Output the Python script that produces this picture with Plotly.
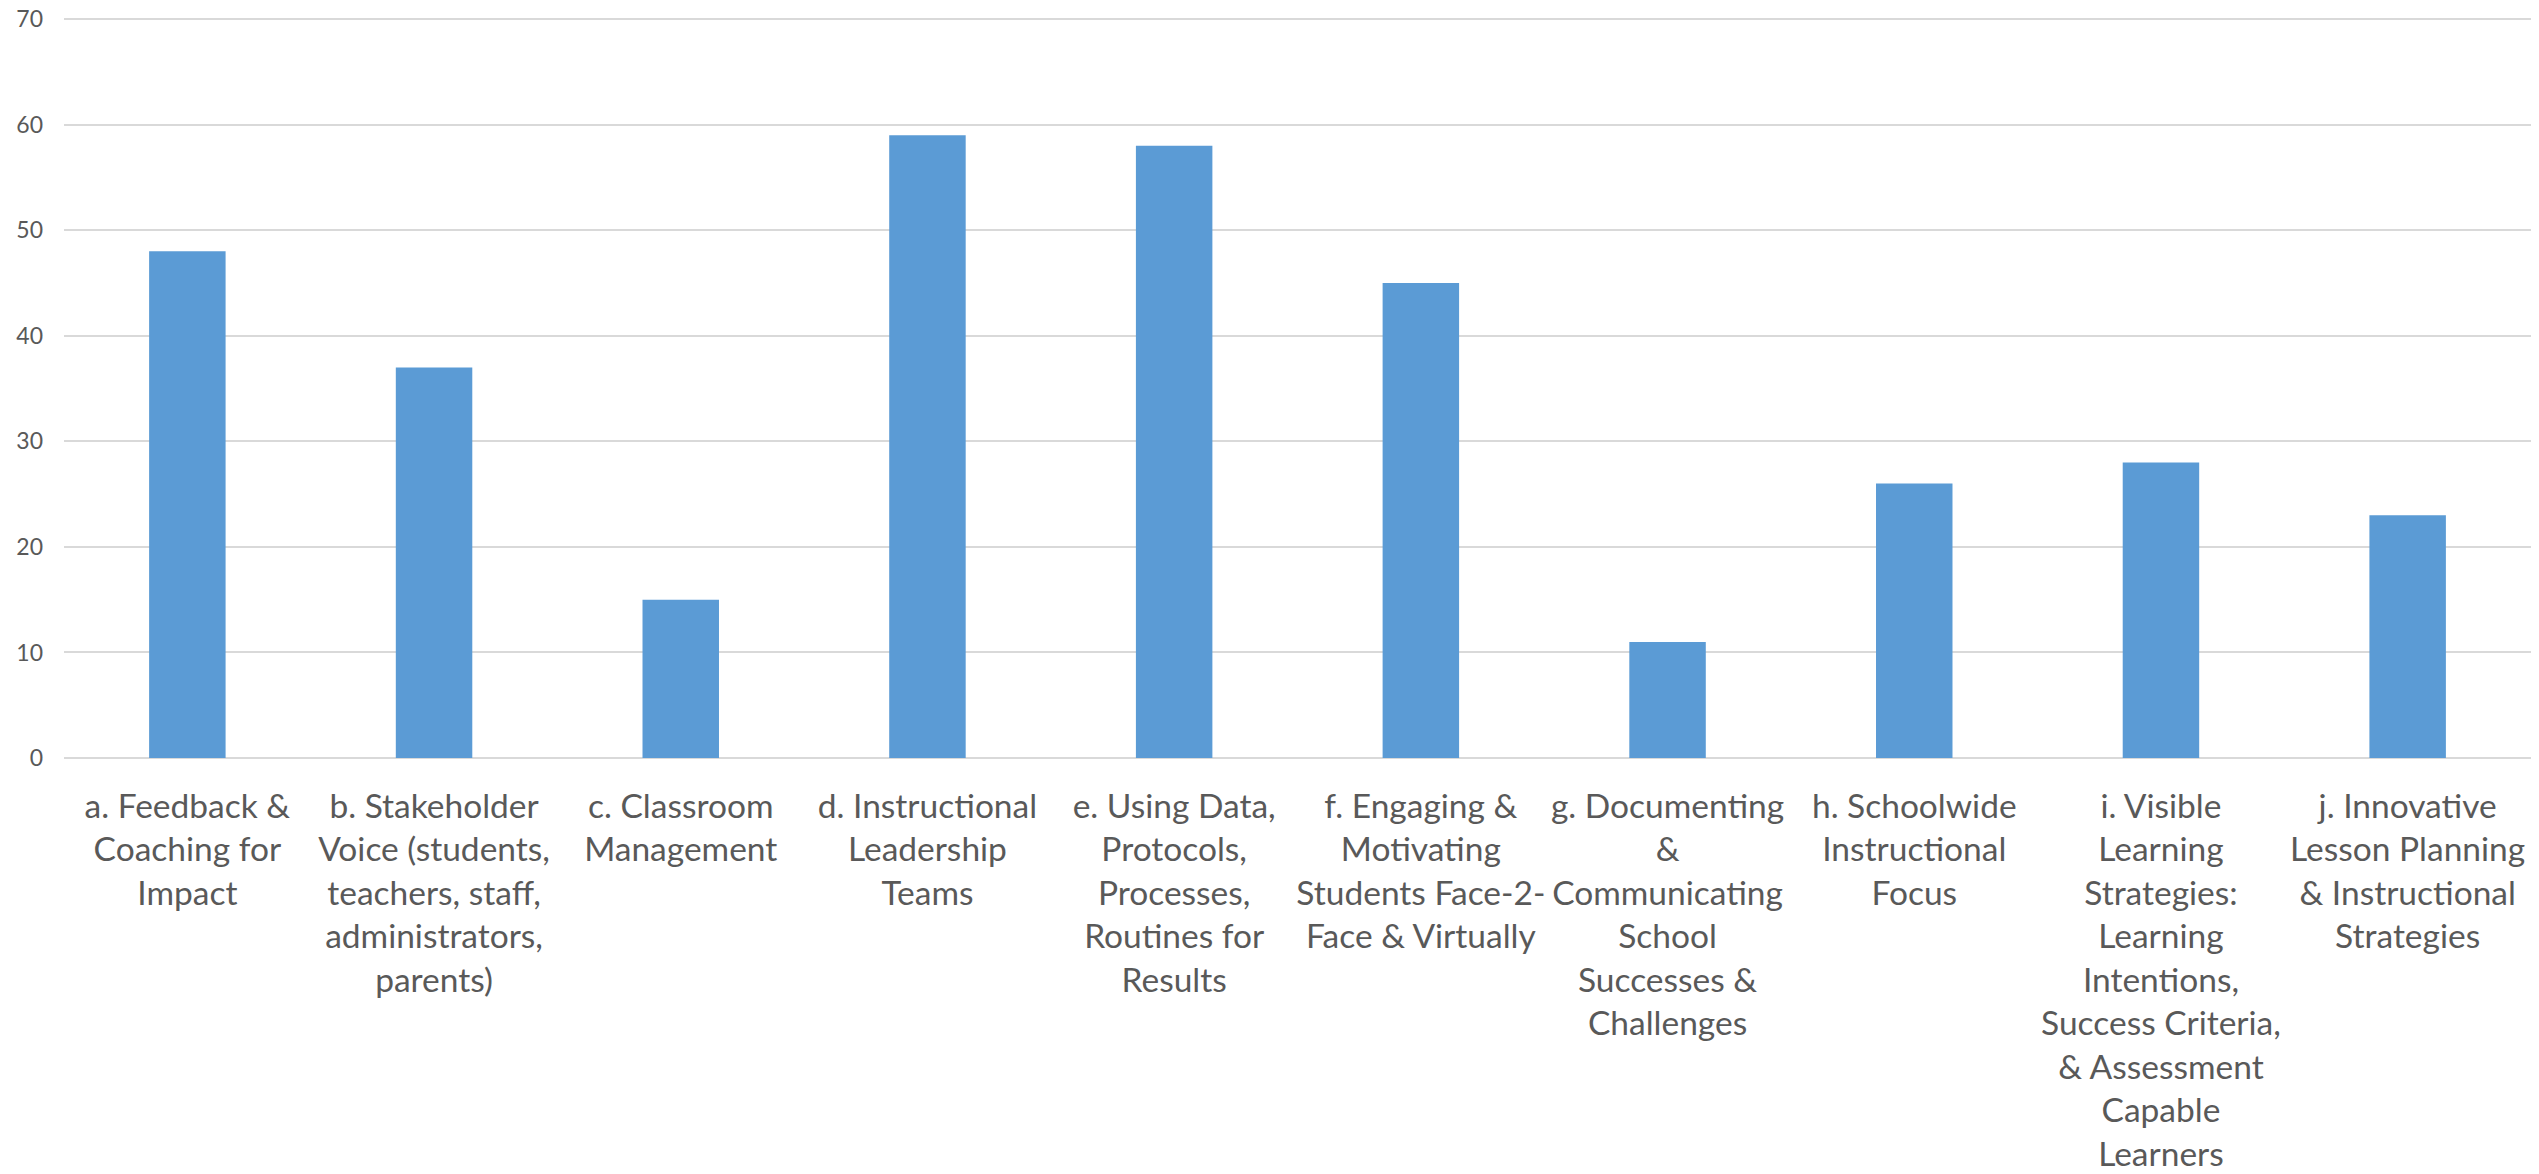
import plotly.graph_objects as go

categories = [
    "a. Feedback &<br>Coaching for<br>Impact",
    "b. Stakeholder<br>Voice (students,<br>teachers, staff,<br>administrators,<br>parents)",
    "c. Classroom<br>Management",
    "d. Instructional<br>Leadership<br>Teams",
    "e. Using Data,<br>Protocols,<br>Processes,<br>Routines for<br>Results",
    "f. Engaging &<br>Motivating<br>Students Face-2-<br>Face & Virtually",
    "g. Documenting<br>&<br>Communicating<br>School<br>Successes &<br>Challenges",
    "h. Schoolwide<br>Instructional<br>Focus",
    "i. Visible<br>Learning<br>Strategies:<br>Learning<br>Intentions,<br>Success Criteria,<br>& Assessment<br>Capable<br>Learners",
    "j. Innovative<br>Lesson Planning<br>& Instructional<br>Strategies",
]
values = [48, 37, 15, 59, 58, 45, 11, 26, 28, 23]
y_ticks = [0, 10, 20, 30, 40, 50, 60, 70]

fig = go.Figure(
    go.Bar(x=categories, y=values, marker=dict(color="#5b9bd5", line=dict(width=0)))
)

fig.update_layout(
    width=2531,
    height=1166,
    margin=dict(l=56, r=8, t=10, b=416),
    paper_bgcolor="white",
    plot_bgcolor="white",
    bargap=0.69,
    showlegend=False,
    font=dict(family="Lato, Open Sans, sans-serif", color="#595959"),
)
fig.update_xaxes(
    tickfont=dict(size=33.5, color="#595959"),
    tickangle=0,
    automargin=False,
    showgrid=False,
    showline=False,
    ticks="",
    ticklabelstandoff=25,
)
fig.update_yaxes(
    range=[0, 70.1],
    tickvals=y_ticks,
    tickfont=dict(size=23, color="#595959"),
    automargin=False,
    ticklabeloverflow="allow",
    showgrid=True,
    gridcolor="#d9d9d9",
    gridwidth=2,
    zeroline=True,
    zerolinecolor="#d9d9d9",
    zerolinewidth=2,
    showline=False,
    ticks="",
    ticklabelstandoff=20,
)

fig.write_html("out.html")
